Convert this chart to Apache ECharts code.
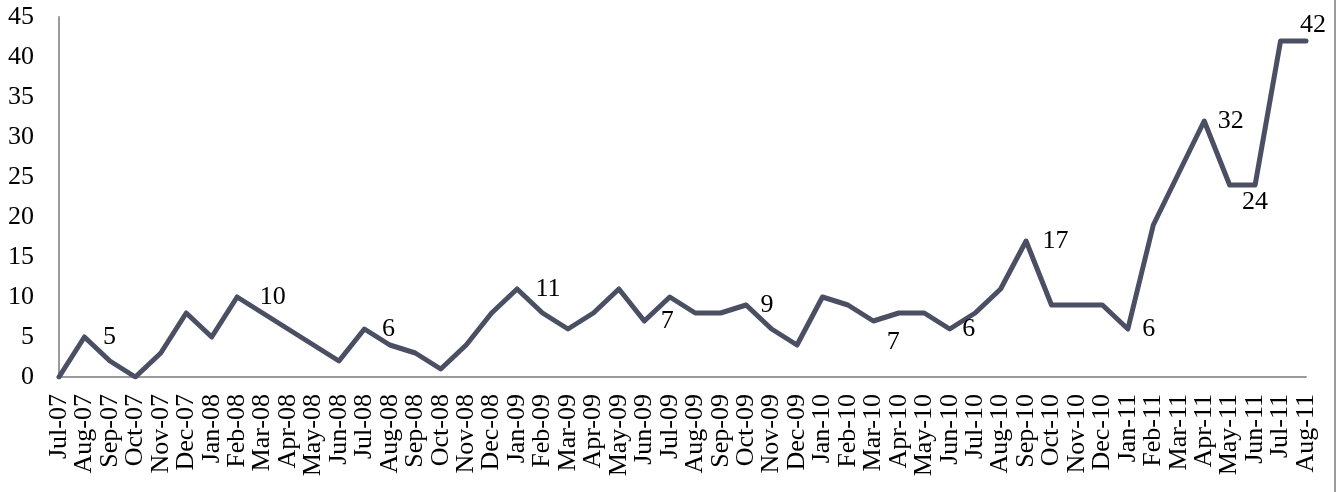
<!DOCTYPE html>
<html>
<head>
<meta charset="utf-8">
<script src="https://cdn.jsdelivr.net/npm/echarts@6/dist/echarts.min.js"></script>
<style>
  html, body { margin: 0; padding: 0; background: #ffffff; }
  #chart { width: 1338px; height: 492px; }
</style>
</head>
<body>
<div id="chart"></div>
<script>
const categories = [
  'Jul-07','Aug-07','Sep-07','Oct-07','Nov-07','Dec-07',
  'Jan-08','Feb-08','Mar-08','Apr-08','May-08','Jun-08','Jul-08','Aug-08','Sep-08','Oct-08','Nov-08','Dec-08',
  'Jan-09','Feb-09','Mar-09','Apr-09','May-09','Jun-09','Jul-09','Aug-09','Sep-09','Oct-09','Nov-09','Dec-09',
  'Jan-10','Feb-10','Mar-10','Apr-10','May-10','Jun-10','Jul-10','Aug-10','Sep-10','Oct-10','Nov-10','Dec-10',
  'Jan-11','Feb-11','Mar-11','Apr-11','May-11','Jun-11','Jul-11','Aug-11'
];
const values = [
  0, 5, 2, 0, 3, 8,
  5, 10, 8, 6, 4, 2, 6, 4, 3, 1, 4, 8,
  11, 8, 6, 8, 11, 7, 10, 8, 8, 9, 6, 4,
  10, 9, 7, 8, 8, 6, 8, 11, 17, 9, 9, 9,
  6, 19, 25.5, 32, 24, 24, 42, 42
];
const yTicks = [0, 5, 10, 15, 20, 25, 30, 35, 40, 45];
// which points carry a data label, and where it sits
const labelled = {
  'Aug-07': {position: 'right', distance: 18},
  'Feb-08': {position: 'right', distance: 22},
  'Jul-08': {position: 'right', distance: 17},
  'Jan-09': {position: 'right', distance: 18},
  'Jun-09': {position: 'right', distance: 16},
  'Oct-09': {position: 'right', distance: 14},
  'Mar-10': {position: 'right', distance: 13, offset: [0, 21]},
  'Jun-10': {position: 'right', distance: 12},
  'Sep-10': {position: 'right', distance: 16},
  'Jan-11': {position: 'right', distance: 14},
  'Apr-11': {position: 'right', distance: 13},
  'Jun-11': {position: 'bottom', distance: 4},
  'Aug-11': {position: 'top', distance: 2, offset: [7, 0]}
};

const FONT = "'Liberation Serif', 'Times New Roman', serif";

const seriesData = values.map((v, i) => {
  const cfg = labelled[categories[i]];
  const item = { value: v };
  if (cfg) {
    item.label = Object.assign({
      show: true,
      fontFamily: FONT,
      fontSize: 26,
      color: '#000'
    }, cfg);
  }
  return item;
});

const chart = echarts.init(document.getElementById('chart'), null, {renderer: 'canvas'});
chart.setOption({
  animation: false,
  backgroundColor: '#ffffff',
  grid: { left: 59, right: 32, top: 17, bottom: 115, containLabel: false },
  xAxis: {
    type: 'category',
    data: categories,
    boundaryGap: false,
    axisLine: { show: true, lineStyle: { color: '#9a9a9a', width: 2 } },
    axisTick: { show: false },
    axisLabel: {
      interval: 0,
      rotate: 90,
      margin: 17,
      fontFamily: FONT,
      fontSize: 26,
      color: '#000'
    },
    splitLine: { show: false }
  },
  yAxis: {
    type: 'value',
    min: yTicks[0],
    max: yTicks[yTicks.length - 1],
    interval: 5,
    axisLine: { show: true, lineStyle: { color: '#9a9a9a', width: 2 } },
    axisTick: { show: false },
    axisLabel: {
      margin: 25,
      fontFamily: FONT,
      fontSize: 26,
      color: '#000'
    },
    splitLine: { show: false }
  },
  series: [{
    type: 'line',
    data: seriesData,
    symbol: 'circle',
    symbolSize: 1,
    showSymbol: true,
    itemStyle: { color: '#4a4f63' },
    lineStyle: { color: '#4a4f63', width: 5, cap: 'round', join: 'round' },
    label: { show: false },
    emphasis: { disabled: true }
  }],
  graphic: [{
    type: 'line',
    shape: { x1: 1335, y1: 0, x2: 1335, y2: 492 },
    style: { stroke: '#9a9a9a', lineWidth: 2 }
  }]
});
</script>
</body>
</html>
